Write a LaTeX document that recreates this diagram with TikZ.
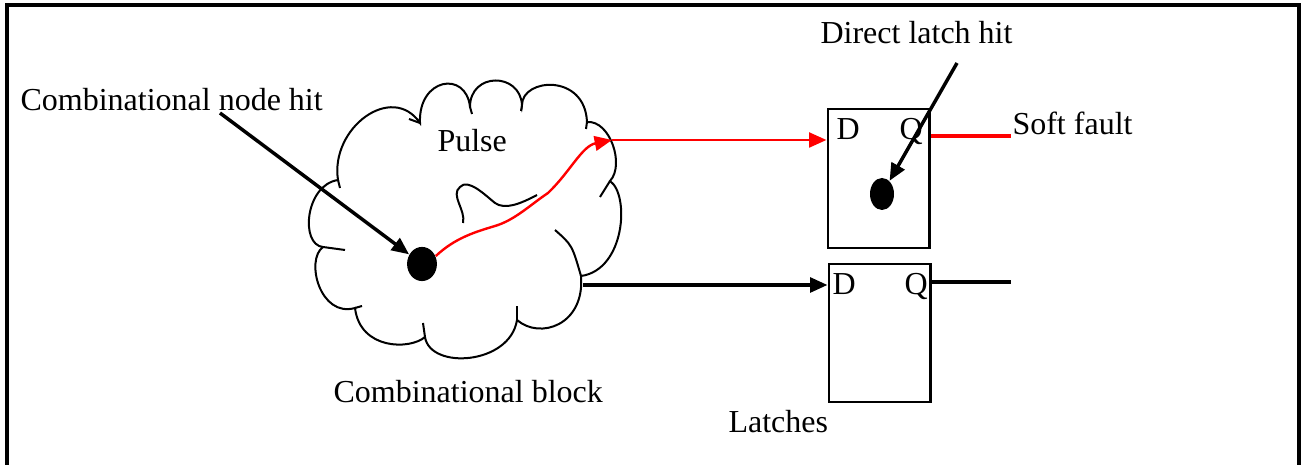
\documentclass[tikz,border=0pt]{standalone}
\usepackage{fontspec}
\setmainfont{Liberation Serif}
\usetikzlibrary{arrows.meta}
\tikzset{
  lbl/.style={inner sep=0pt, anchor=base west, font=\fontsize{12}{14}\selectfont},
  latchbox/.style={draw, line width=0.8pt, minimum width=38.2pt, minimum height=52pt, inner sep=0pt},
  hitdot/.style={ellipse, fill=black, inner sep=0pt},
  blackarrow/.style={line width=1.3pt, -{Triangle[length=6.5pt, width=5.5pt]}},
  redarrow/.style={red, line width=0.9pt, -{Triangle[length=6.5pt, width=5.5pt]}},
  outline/.style={line width=0.75pt},
}
\usetikzlibrary{shapes.geometric}
\begin{document}
\begin{tikzpicture}[x=0.375pt, y=-0.375pt]
\useasboundingbox (0,0) rectangle (1301,465);

% page frame (open at the bottom)
\draw[line width=1.2pt] (7,465) -- (7,5) -- (1299,5) -- (1299,465);

% combinational block drawn as a cloud of puffs
\coordinate (A) at (338,180);
\coordinate (B) at (420,123);
\coordinate (C) at (470,107);
\coordinate (D) at (522,105);
\coordinate (E) at (587,122);
\coordinate (F) at (610,181);
\coordinate (G) at (581,276);
\coordinate (H) at (517,320);
\coordinate (I) at (425,337);
\coordinate (J) at (355,308);
\coordinate (K) at (323,247);
\draw[outline]
  (A) .. controls (330,128) and (392,82) .. (B)
      .. controls (418,78) and (466,70) .. (C)
      .. controls (470,72) and (520,72) .. (D)
      .. controls (522,78) and (585,73) .. (E)
      .. controls (610,120) and (625,165) .. (F)
      .. controls (630,195) and (625,270) .. (G)
      .. controls (585,325) and (540,340) .. (H)
      .. controls (510,365) and (430,370) .. (I)
      .. controls (410,350) and (360,350) .. (J)
      .. controls (320,318) and (305,260) .. (K)
      .. controls (300,245) and (305,185) .. cycle;
% inner ends of the puffs
\draw[outline] (A) -- (340,188);
\draw[outline] (B) -- (409,119);
\draw[outline] (C) -- (472,114);
\draw[outline] (D) -- (521,111);
\draw[outline] (E) -- (586,129);
\draw[outline] (F) -- (600,197);
\draw[outline] (555,230) .. controls (572,245) .. (G);
\draw[outline] (H) -- (517,306);
\draw[outline] (I) -- (423,323);
\draw[outline] (J) -- (362,306);
\draw[outline] (K) -- (345,250);

% small squiggle inside the block
\draw[outline] (463,223) .. controls (466,210) and (450,195) .. (460,187)
               .. controls (468,178) and (485,195) .. (495,203)
               .. controls (505,210) and (520,204) .. (537,195);

% struck combinational node
\node[hitdot, minimum width=11.2pt, minimum height=12.8pt] (hit1) at (422,264) {};
\coordinate (hit1src) at (220,113);
\draw[blackarrow] (hit1src) -- (hit1);

% latches
\node[latchbox] (latch1) at (878.5,178.5) {};
\node[latchbox] (latch2) at (879.5,333) {};
\node[lbl] (d1) at (836,140) {D};
\node[lbl] (q1) at (899,140) {Q};
\node[lbl] (d2) at (832,295) {D};
\node[lbl] (q2) at (904,295) {Q};

% pulse travelling to the upper latch
\coordinate (bend) at (612,140);
\draw[redarrow] (hit1.30) .. controls (455,238) and (475,232) .. (495,226)
                .. controls (515,220) and (530,205) .. (548,193)
                .. controls (570,172) and (582,146) .. (bend);
\draw[redarrow, line width=1.1pt] (bend) -- (latch1.west |- bend);

% soft fault output
\coordinate (sf) at (1011,136);
\draw[red, line width=1.3pt] (latch1.east |- sf) -- (sf);

% unaffected path to the lower latch
\coordinate (cloudout) at (583,285);
\draw[blackarrow] (cloudout) -- (latch2.west |- cloudout);
\coordinate (q2end) at (1011,282);
\draw[line width=1.3pt] (latch2.east |- q2end) -- (q2end);

% direct hit on the latch
\node[hitdot, minimum width=9pt, minimum height=12pt] (hit2) at (882,194) {};
\coordinate (hit2src) at (957,63);
\draw[blackarrow] (hit2src) -- (hit2);

% labels
\node[lbl] (t1) at (20,111) {Combinational node hit};
\node[lbl] (t2) at (437,152) {Pulse};
\node[lbl] (t3) at (333,403) {Combinational block};
\node[lbl] (t4) at (728,433) {Latches};
\node[lbl] (t5) at (1012,135) {Soft fault};
\node[lbl] (t6) at (820,44) {Direct latch hit};
\end{tikzpicture}
\end{document}
